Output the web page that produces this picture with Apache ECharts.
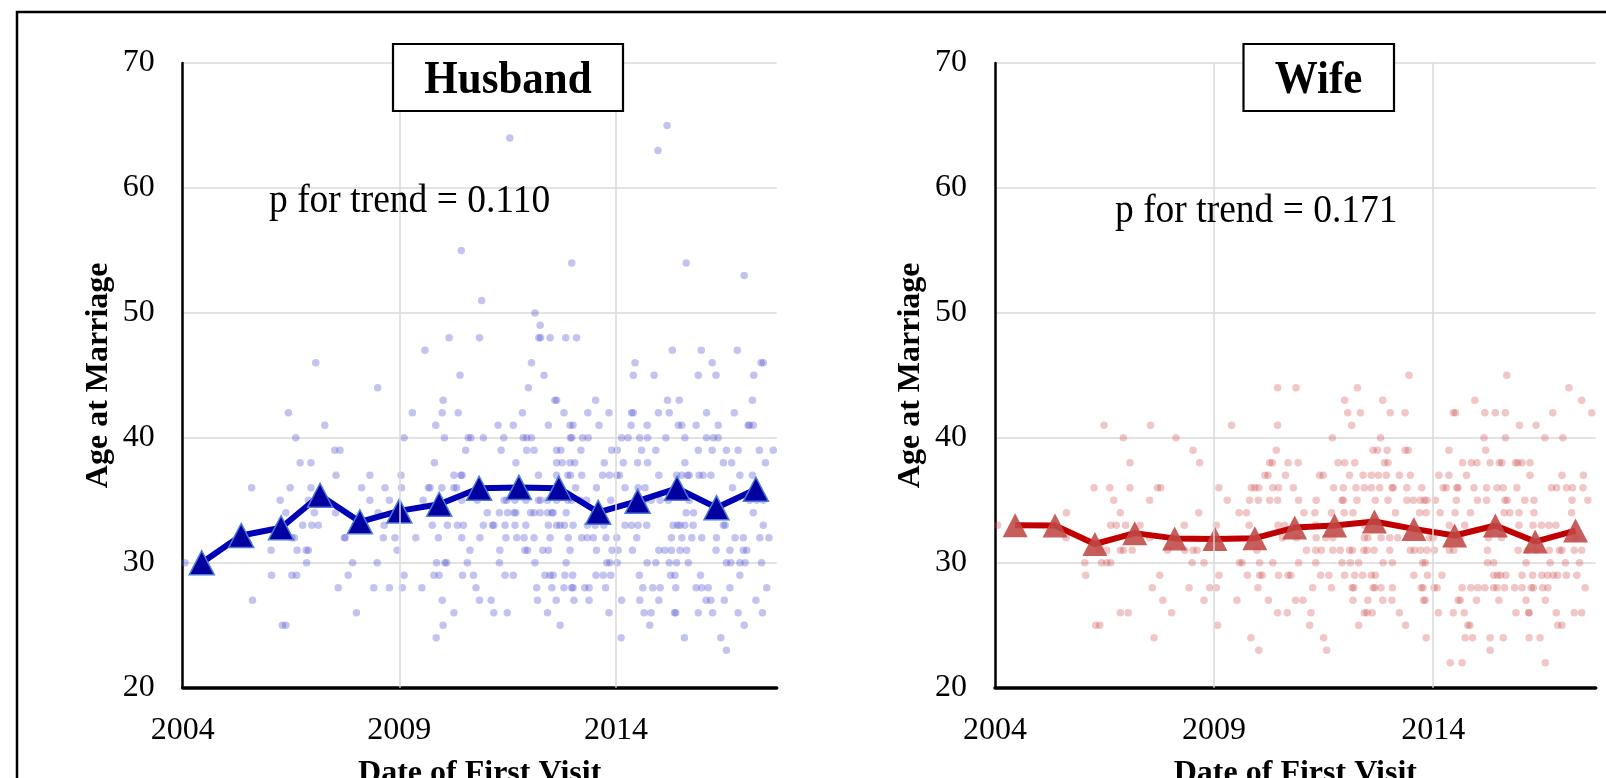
<!DOCTYPE html>
<html><head><meta charset="utf-8">
<script src="https://cdn.jsdelivr.net/npm/echarts@6/dist/echarts.min.js"></script>
<style>html,body{margin:0;padding:0;background:#fff}#c{width:1606px;height:778px}</style>
</head><body><div id="c"></div><script>
// ---------------- DATA ----------------
var xTickYears = [2004, 2009, 2014];
var yTicks = [20, 30, 40, 50, 60, 70];
var xGridYears = [2009, 2014];

var husbandTrendYear = [2004.44, 2005.35, 2006.27, 2007.17, 2008.09, 2009.00, 2009.92, 2010.84, 2011.76, 2012.68, 2013.59, 2014.50, 2015.41, 2016.32, 2017.23];
var husbandTrendAge  = [30.0, 32.18, 32.8, 35.4, 33.28, 34.15, 34.68, 35.96, 36.03, 35.97, 34.04, 34.93, 35.96, 34.41, 35.88];

var wifeTrendYear = [2004.46, 2005.37, 2006.28, 2007.19, 2008.10, 2009.02, 2009.93, 2010.84, 2011.75, 2012.66, 2013.56, 2014.49, 2015.42, 2016.33, 2017.25];
var wifeTrendAge  = [33.0, 32.98, 31.5, 32.37, 31.95, 31.9, 31.97, 32.82, 32.98, 33.3, 32.71, 32.18, 32.98, 31.7, 32.58];

// individual couples: [age, [years of first visit]]
var husbandDotRows = [
  [65, [2015.18]],
  [64, [2011.55]],
  [63, [2014.97]],
  [55, [2010.43]],
  [54, [2012.98, 2015.62]],
  [53, [2016.96]],
  [51, [2010.9]],
  [50, [2012.13]],
  [49, [2012.25]],
  [48, [2010.15, 2010.85, 2012.22, 2012.26, 2012.48, 2012.84, 2013.09]],
  [47, [2009.59, 2015.3, 2015.97, 2016.8]],
  [46, [2007.07, 2012.05, 2014.44, 2016.22, 2017.35, 2017.4]],
  [45, [2010.4, 2012.34, 2014.4, 2014.88, 2015.9, 2016.31, 2017.18]],
  [44, [2008.5, 2011.98]],
  [43, [2010.01, 2012.59, 2012.63, 2013.53, 2015.19, 2015.46, 2017.15]],
  [42, [2006.44, 2009.3, 2009.99, 2010.36, 2011.84, 2012.8, 2013.35, 2013.84, 2014.36, 2014.4, 2014.98, 2015.23, 2016.09, 2016.73]],
  [41, [2007.28, 2009.84, 2011.28, 2011.63, 2012.44, 2012.94, 2013.01, 2013.61, 2014.35, 2014.72, 2015.44, 2015.52, 2015.85, 2016.36, 2017.05, 2017.08, 2017.17]],
  [40, [2006.61, 2009.11, 2010.04, 2010.59, 2010.65, 2010.94, 2011.41, 2011.86, 2011.94, 2012.05, 2012.95, 2012.98, 2013.23, 2013.36, 2014.13, 2014.28, 2014.55, 2014.73, 2015.15, 2015.59, 2016.09, 2016.25, 2016.36]],
  [39, [2007.51, 2007.63, 2010.53, 2011.35, 2011.94, 2012.11, 2012.63, 2012.73, 2013.19, 2013.9, 2014.03, 2014.59, 2014.92, 2015.9, 2016.22, 2016.55, 2016.82, 2017.31, 2017.63]],
  [38, [2006.71, 2006.96, 2009.81, 2011.69, 2012.63, 2012.76, 2012.94, 2013.05, 2013.73, 2014.17, 2014.5, 2014.73, 2015.59, 2016.48, 2016.67, 2017.45]],
  [37, [2007.54, 2008.32, 2009.04, 2010.26, 2010.42, 2010.45, 2012.21, 2012.63, 2012.89, 2012.95, 2013.21, 2013.69, 2013.85, 2014.02, 2014.08, 2014.99, 2015.4, 2015.52, 2015.65, 2015.69, 2015.92, 2016.01, 2016.19, 2016.86, 2017.15]],
  [36, [2005.59, 2006.48, 2006.96, 2008.13, 2008.67, 2009.05, 2009.67, 2009.71, 2009.98, 2010.26, 2010.32, 2013.07, 2013.55, 2014.21, 2014.51, 2014.67, 2016.69]],
  [35, [2006.25, 2006.9, 2008.32, 2008.77, 2009.55, 2010.44, 2010.8, 2011.42, 2011.48, 2011.67, 2011.92, 2012.21, 2012.26, 2012.42, 2012.63, 2012.89, 2012.98, 2013.17, 2013.32, 2013.88, 2014.67, 2014.81, 2015.02, 2015.21, 2015.69, 2017.09, 2017.25, 2017.4]],
  [34, [2006.38, 2007.04, 2007.53, 2008.51, 2011.03, 2011.31, 2011.5, 2011.65, 2011.69, 2012.03, 2012.11, 2012.25, 2012.42, 2012.52, 2012.55, 2012.85, 2015.62, 2015.79, 2017.17]],
  [33, [2006.77, 2006.98, 2007.13, 2008.65, 2009.76, 2010.11, 2010.34, 2010.48, 2010.94, 2011.15, 2011.18, 2011.44, 2011.67, 2011.92, 2012.44, 2012.63, 2012.71, 2012.81, 2013.01, 2013.34, 2013.52, 2013.72, 2014.21, 2014.36, 2014.51, 2014.71, 2015.32, 2015.42, 2015.48, 2015.59, 2015.78, 2016.48, 2016.52, 2017.4]],
  [32, [2006.52, 2006.58, 2007.73, 2007.75, 2008.63, 2008.9, 2009.38, 2009.9, 2010.44, 2010.86, 2011.46, 2011.71, 2011.88, 2012.11, 2012.48, 2012.9, 2013.21, 2013.34, 2013.48, 2013.77, 2014.02, 2014.48, 2015.28, 2015.52, 2015.75, 2015.98, 2016.32, 2016.75, 2016.94, 2017.32, 2017.53]],
  [31, [2006.04, 2006.64, 2006.85, 2006.9, 2008.95, 2010.63, 2011.32, 2011.9, 2011.96, 2012.31, 2012.44, 2012.94, 2013.55, 2013.91, 2014.05, 2014.38, 2014.99, 2015.13, 2015.28, 2015.48, 2015.63, 2016.31, 2016.63, 2016.94, 2017.02]],
  [30, [2004.05, 2006.86, 2007.92, 2008.49, 2009.86, 2010.05, 2010.09, 2010.57, 2011.31, 2012.13, 2012.85, 2013.79, 2013.86, 2014.03, 2014.72, 2014.92, 2015.23, 2015.4, 2015.67, 2016.55, 2016.65, 2016.86, 2016.98, 2017.36]],
  [29, [2006.05, 2006.52, 2006.63, 2007.82, 2009.11, 2009.8, 2009.92, 2010.46, 2010.71, 2011.44, 2011.63, 2012.36, 2012.48, 2012.55, 2012.82, 2013.0, 2013.54, 2013.71, 2013.88, 2014.54, 2015.26, 2015.36, 2015.95, 2016.86]],
  [28, [2007.59, 2008.41, 2008.77, 2009.07, 2009.52, 2010.77, 2012.17, 2012.52, 2012.8, 2012.98, 2013.01, 2013.28, 2013.38, 2013.76, 2014.62, 2014.85, 2015.02, 2015.38, 2015.85, 2015.98, 2016.13, 2016.63, 2017.48]],
  [27, [2005.61, 2009.99, 2010.85, 2011.12, 2012.19, 2012.62, 2013.03, 2013.38, 2014.13, 2014.55, 2014.99, 2016.08, 2016.19, 2016.5, 2017.23]],
  [26, [2008.01, 2010.26, 2011.18, 2011.49, 2012.42, 2013.84, 2014.65, 2014.81, 2015.35, 2015.38, 2015.9, 2016.23, 2016.82, 2017.38]],
  [25, [2006.3, 2006.38, 2010.01, 2012.71, 2014.78, 2016.96]],
  [24, [2009.85, 2014.12, 2015.58, 2016.42]],
  [23, [2016.55]]
];

var wifeDotRows = [
  [45, [2013.45, 2015.68]],
  [44, [2010.45, 2010.87, 2012.27, 2017.1]],
  [43, [2011.98, 2012.85, 2014.95, 2017.39]],
  [42, [2012.05, 2012.34, 2013.02, 2013.36, 2014.46, 2014.51, 2015.18, 2015.42, 2015.65, 2016.73, 2017.62]],
  [41, [2006.49, 2007.55, 2009.4, 2010.45, 2012.14, 2015.97, 2016.35]],
  [40, [2006.93, 2008.13, 2011.7, 2012.8, 2015.16, 2015.65, 2016.55, 2016.96]],
  [39, [2008.52, 2010.42, 2012.63, 2012.73, 2012.95, 2013.36, 2013.43, 2014.36, 2015.2]],
  [38, [2007.08, 2008.67, 2010.27, 2010.33, 2010.69, 2010.92, 2011.83, 2011.98, 2012.21, 2012.89, 2012.97, 2014.67, 2014.87, 2015.0, 2015.3, 2015.51, 2015.57, 2015.88, 2015.93, 2016.03, 2016.21]],
  [37, [2010.16, 2010.23, 2010.63, 2011.41, 2011.49, 2012.09, 2012.4, 2012.59, 2012.75, 2012.93, 2013.23, 2013.48, 2014.13, 2014.36, 2014.76, 2016.21, 2016.94, 2017.43]],
  [36, [2006.26, 2006.62, 2007.08, 2007.71, 2007.78, 2009.11, 2009.85, 2009.93, 2010.02, 2010.34, 2010.47, 2010.81, 2011.73, 2011.95, 2012.24, 2012.43, 2012.59, 2012.78, 2013.06, 2013.09, 2013.4, 2013.74, 2014.23, 2014.3, 2014.54, 2014.57, 2014.93, 2015.22, 2015.46, 2015.6, 2015.91, 2016.7, 2016.82, 2017.04, 2017.18, 2017.42]],
  [35, [2006.71, 2007.53, 2009.3, 2009.81, 2010.01, 2010.27, 2010.45, 2010.93, 2011.33, 2011.92, 2011.95, 2012.26, 2012.68, 2012.97, 2013.4, 2013.55, 2013.71, 2013.8, 2013.86, 2014.05, 2014.53, 2015.01, 2015.22, 2015.64, 2015.69, 2016.09, 2016.3, 2017.17, 2017.53]],
  [34, [2005.63, 2006.86, 2008.65, 2009.57, 2009.74, 2011.05, 2011.3, 2011.68, 2011.97, 2012.17, 2013.14, 2013.69, 2013.84, 2014.16, 2014.5, 2014.85, 2015.62, 2015.75, 2015.96, 2016.3, 2017.16]],
  [33, [2004.06, 2006.64, 2006.77, 2006.98, 2007.31, 2008.32, 2009.05, 2009.8, 2010.46, 2010.61, 2011.32, 2012.43, 2014.37, 2014.72, 2015.96, 2016.28, 2016.47, 2016.64, 2016.8]],
  [32, [2005.62, 2007.53, 2010.56, 2010.88, 2011.33, 2011.55, 2011.71, 2012.43, 2012.51, 2012.81, 2013.01, 2013.19, 2013.92, 2014.0, 2014.63, 2015.26, 2015.56, 2017.24]],
  [31, [2006.39, 2006.55, 2006.86, 2006.93, 2007.13, 2007.94, 2008.33, 2008.52, 2008.61, 2009.98, 2011.11, 2011.32, 2011.45, 2011.71, 2011.88, 2012.09, 2012.16, 2012.42, 2012.49, 2012.65, 2013.01, 2013.48, 2013.57, 2013.71, 2013.86, 2014.03, 2014.37, 2014.47, 2015.24, 2015.94, 2016.15, 2016.35, 2016.65, 2016.88, 2016.94, 2017.22, 2017.39]],
  [30, [2006.05, 2006.43, 2006.55, 2006.64, 2008.5, 2008.77, 2009.58, 2009.64, 2010.04, 2010.34, 2010.93, 2011.32, 2011.92, 2012.11, 2012.3, 2012.86, 2013.07, 2013.76, 2013.82, 2015.24, 2015.38, 2016.12, 2016.67, 2017.02, 2017.34]],
  [29, [2006.07, 2007.76, 2009.11, 2009.76, 2010.04, 2010.1, 2010.47, 2010.69, 2010.75, 2011.43, 2011.62, 2011.98, 2012.21, 2012.39, 2012.59, 2012.68, 2013.56, 2013.87, 2014.2, 2015.38, 2015.47, 2015.54, 2015.66, 2016.03, 2016.27, 2016.48, 2016.61, 2016.74, 2016.84, 2017.04, 2017.28]],
  [28, [2007.59, 2008.43, 2008.9, 2009.05, 2010.0, 2011.25, 2011.68, 2012.15, 2012.19, 2012.63, 2012.67, 2012.81, 2013.07, 2013.73, 2013.77, 2014.02, 2014.09, 2014.66, 2014.86, 2015.02, 2015.18, 2015.38, 2015.46, 2015.63, 2015.86, 2016.03, 2016.24, 2016.29, 2016.5, 2016.62, 2017.47]],
  [27, [2007.83, 2008.77, 2009.52, 2010.24, 2010.86, 2011.03, 2012.17, 2012.51, 2012.85, 2013.06, 2013.78, 2013.82, 2014.57, 2014.62, 2014.99, 2015.5, 2016.12, 2016.56]],
  [26, [2006.86, 2007.04, 2008.03, 2010.45, 2010.67, 2011.21, 2012.43, 2012.49, 2012.61, 2013.23, 2014.12, 2014.46, 2014.71, 2015.89, 2016.18, 2016.19, 2016.81, 2017.22, 2017.39]],
  [25, [2006.3, 2006.39, 2009.08, 2011.18, 2012.3, 2013.37, 2014.79, 2014.84, 2016.84, 2016.94]],
  [24, [2007.63, 2009.84, 2011.5, 2013.84, 2014.73, 2014.9, 2015.3, 2015.6, 2016.19, 2016.44]],
  [23, [2010.02, 2011.57, 2015.3]],
  [22, [2014.39, 2014.66, 2016.56]]
];

var panelTitles = ['Husband', 'Wife'];
var trendTexts = ['p for trend = 0.110', 'p for trend = 0.171'];

// ---------------- BUILD ----------------
function toPairs(rows) {
  var out = [];
  rows.forEach(function (r) { r[1].forEach(function (yr) { out.push([yr, r[0]]); }); });
  return out;
}
function zip(a, b) { return a.map(function (v, i) { return [v, b[i]]; }); }

var FONT = 'Liberation Serif';
var X_MIN = 2004, X_MAX = 2017.71;

var grids = [
  { left: 182.7, top: 63, width: 594, height: 624.7, containLabel: false, outerBoundsMode: 'none' },
  { left: 995, top: 63, width: 600.7, height: 624.7, containLabel: false, outerBoundsMode: 'none' }
];

function xAxisCfg(i) {
  return {
    type: 'value', gridIndex: i, min: X_MIN, max: X_MAX, interval: 5,
    name: 'Date of First Visit', nameLocation: 'middle', nameGap: 70,
    nameTextStyle: { fontFamily: FONT, fontWeight: 'bold', fontSize: 32, color: '#000' },
    axisLine: { show: true, onZero: false, lineStyle: { color: '#000', width: 3.5 } },
    axisTick: { show: false },
    splitLine: { show: false },
    axisLabel: {
      show: true, margin: 27, fontFamily: FONT, fontSize: 32, color: '#000',
      showMaxLabel: false, showMinLabel: true,
      formatter: function (v) { return xTickYears.indexOf(Math.round(v * 100) / 100) >= 0 ? String(v) : ''; }
    }
  };
}
function yAxisCfg(i) {
  return {
    type: 'value', gridIndex: i, min: yTicks[0], max: yTicks[yTicks.length - 1], interval: 10,
    name: 'Age at Marriage', nameLocation: 'middle', nameGap: 68,
    nameTextStyle: { fontFamily: FONT, fontWeight: 'bold', fontSize: 32, color: '#000' },
    axisLine: { show: true, onZero: false, lineStyle: { color: '#000', width: 2.5 } },
    axisTick: { show: false },
    splitLine: { show: true, lineStyle: { color: '#d9d9d9', width: 1.5 } },
    axisLabel: { show: true, margin: 28, fontFamily: FONT, fontSize: 32, color: '#000', padding: [9, 0, 0, 0] }
  };
}

var dotColors = ['rgba(90,90,210,0.45)', 'rgba(205,70,70,0.38)'];
var lineColors = ['#0000b4', '#c00000'];
var triFill = ['#0000a0', 'rgba(192,72,70,0.88)'];
var triBorder = ['#4b7bd6', 'rgba(192,72,70,0.88)'];
var dotData = [toPairs(husbandDotRows), toPairs(wifeDotRows)];
var trendData = [zip(husbandTrendYear, husbandTrendAge), zip(wifeTrendYear, wifeTrendAge)];

var series = [];
[0, 1].forEach(function (i) {
  series.push({
    type: 'scatter', xAxisIndex: i, yAxisIndex: i, data: [], silent: true, z: 1,
    markLine: {
      symbol: 'none', silent: true, animation: false, label: { show: false },
      lineStyle: { color: '#d9d9d9', width: 1.5, type: 'solid' },
      emphasis: { disabled: true },
      data: xGridYears.map(function (v) { return { xAxis: v }; })
    }
  });
  series.push({
    type: 'scatter', xAxisIndex: i, yAxisIndex: i, data: dotData[i], silent: true, z: 2,
    symbol: 'circle', symbolSize: 7.5,
    itemStyle: { color: dotColors[i] }
  });
  series.push({
    type: 'line', xAxisIndex: i, yAxisIndex: i, data: trendData[i], silent: true, z: 3,
    symbol: 'triangle', symbolSize: [25, 24], showAllSymbol: true,
    lineStyle: { color: lineColors[i], width: 6 },
    itemStyle: { color: triFill[i], borderColor: triBorder[i], borderWidth: i === 0 ? 1.5 : 0 }
  });
});

var graphic = [
  { type: 'rect', z: 100, shape: { x: 17, y: 12, width: 1700, height: 900 },
    style: { fill: 'none', stroke: '#000', lineWidth: 2.5 } },
  { type: 'rect', z: 100, shape: { x: 393, y: 44, width: 230, height: 67 },
    style: { fill: '#fff', stroke: '#000', lineWidth: 2.2 } },
  { type: 'text', z: 101, x: 508, y: 81, scaleY: 1.1,
    style: { text: panelTitles[0], font: 'bold 43px "Liberation Serif"', fill: '#000', align: 'center', verticalAlign: 'middle' } },
  { type: 'rect', z: 100, shape: { x: 1243.5, y: 44, width: 150.5, height: 67 },
    style: { fill: '#fff', stroke: '#000', lineWidth: 2.2 } },
  { type: 'text', z: 101, x: 1318.5, y: 81, scaleY: 1.1,
    style: { text: panelTitles[1], font: 'bold 43px "Liberation Serif"', fill: '#000', align: 'center', verticalAlign: 'middle' } },
  { type: 'text', z: 101, x: 269, y: 201, scaleY: 1.08,
    style: { text: trendTexts[0], font: '37.5px "Liberation Serif"', fill: '#000', align: 'left', verticalAlign: 'middle' } },
  { type: 'text', z: 101, x: 1115, y: 211, scaleY: 1.08,
    style: { text: trendTexts[1], font: '37.5px "Liberation Serif"', fill: '#000', align: 'left', verticalAlign: 'middle' } }
];

var chart = echarts.init(document.getElementById('c'), null, { renderer: 'canvas' });
chart.setOption({
  animation: false,
  backgroundColor: '#fff',
  grid: grids,
  xAxis: [xAxisCfg(0), xAxisCfg(1)],
  yAxis: [yAxisCfg(0), yAxisCfg(1)],
  series: series,
  graphic: graphic
});
</script></body></html>
